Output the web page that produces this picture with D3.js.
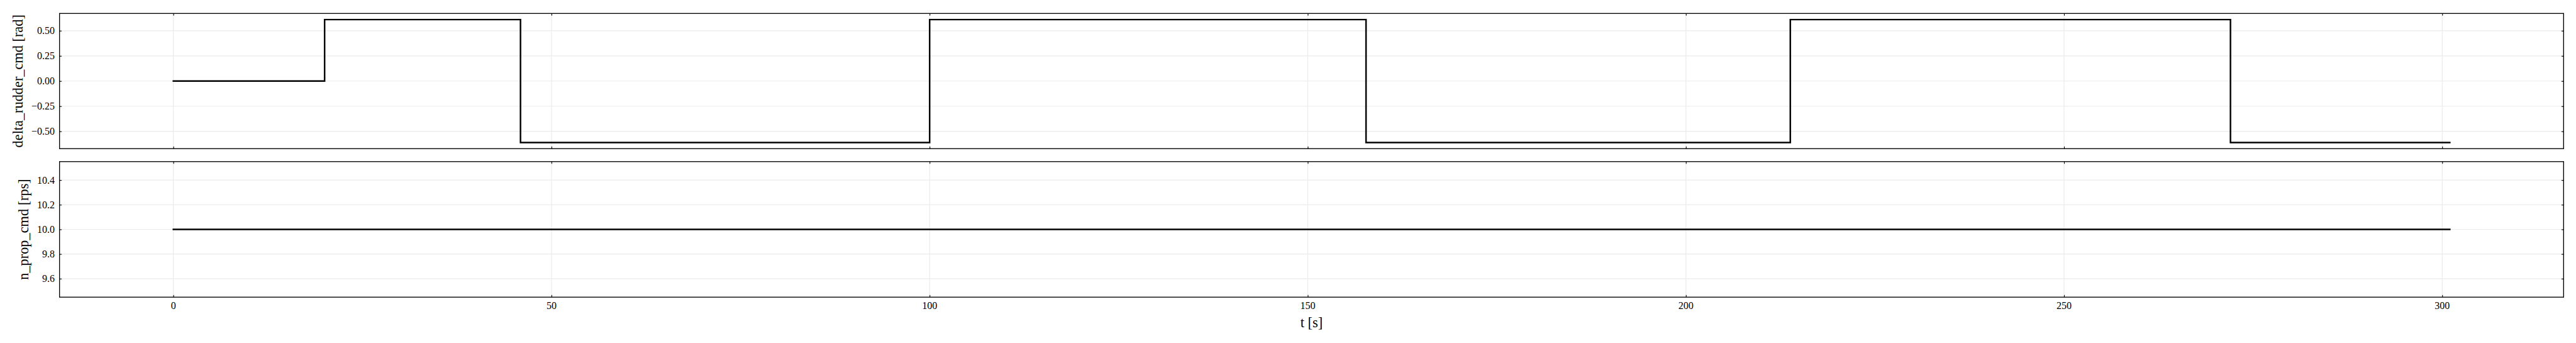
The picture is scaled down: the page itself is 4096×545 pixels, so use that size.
<!DOCTYPE html>
<html>
<head>
<meta charset="utf-8">
<script src="https://cdn.jsdelivr.net/npm/d3@7"></script>
<style>
  html, body { margin: 0; padding: 0; background: #fff; }
  svg { display: block; }
  text { font-family: "Liberation Serif", "Times New Roman", serif; fill: #000; }
</style>
</head>
<body>
<svg id="chart"></svg>
<script>
// ---- data ----
const rudderTimes  = [0, 20, 45.9, 100, 157.7, 213.8, 272, 301];
const rudderValues = [0, 0.611, -0.611, 0.611, -0.611, 0.611, -0.611, -0.611];
const propTimes    = [0, 301];
const propValues   = [10, 10];

const xTicks      = [0, 50, 100, 150, 200, 250, 300];
const rudderTicks = [-0.5, -0.25, 0, 0.25, 0.5];
const propTicks   = [9.6, 9.8, 10.0, 10.2, 10.4];

const xLabel      = "t [s]";
const rudderLabel = "delta_rudder_cmd [rad]";
const propLabel   = "n_prop_cmd [rps]";

// ---- layout in reference pixels (4513 x 600), scaled by viewBox ----
const W = 4513, H = 600;
const svg = d3.select("#chart")
  .attr("width", 4096).attr("height", 545)
  .attr("viewBox", `0 0 ${W} ${H}`);

const left = 104.3, right = 4491.3;
const panels = [
  { top: 23.3, bottom: 260, times: rudderTimes, values: rudderValues,
    ticks: rudderTicks, fmt: d3.format(".2f"), label: rudderLabel,
    domain: [-0.672, 0.672], showX: false },
  { top: 282.7, bottom: 520, times: propTimes, values: propValues,
    ticks: propTicks, fmt: d3.format(".1f"), label: propLabel,
    domain: [9.45, 10.55], showX: true }
];

const x = d3.scaleLinear().domain([-15.05, 316.05]).range([left, right]);

const tickFont = 17.7, labelFont = 24.6, tickLen = 3.8;
const gridColor = "#ebebeb";

panels.forEach(p => {
  const y = d3.scaleLinear().domain(p.domain).range([p.bottom, p.top]);
  const g = svg.append("g");

  // grid
  g.append("g").selectAll("line.vx").data(xTicks).join("line")
    .attr("x1", d => x(d)).attr("x2", d => x(d))
    .attr("y1", p.top).attr("y2", p.bottom)
    .attr("stroke", gridColor).attr("stroke-width", 1.3);
  g.append("g").selectAll("line.hy").data(p.ticks).join("line")
    .attr("x1", left).attr("x2", right)
    .attr("y1", d => y(d)).attr("y2", d => y(d))
    .attr("stroke", gridColor).attr("stroke-width", 1.3);

  // data line
  const pts = p.times.map((t, i) => [t, p.values[i]]);
  g.append("path")
    .datum(pts)
    .attr("d", d3.line().x(d => x(d[0])).y(d => y(d[1])).curve(d3.curveStepAfter))
    .attr("fill", "none").attr("stroke", "#000").attr("stroke-width", 2.7)
    .attr("stroke-linejoin", "miter").attr("stroke-linecap", "square");

  // inward ticks via d3 axes (no domain path)
  const axB = g.append("g").attr("transform", `translate(0,${p.bottom})`)
    .call(d3.axisTop(x).tickValues(xTicks).tickSize(tickLen).tickFormat(""));
  const axT = g.append("g").attr("transform", `translate(0,${p.top})`)
    .call(d3.axisBottom(x).tickValues(xTicks).tickSize(tickLen).tickFormat(""));
  const axL = g.append("g").attr("transform", `translate(${left},0)`)
    .call(d3.axisRight(y).tickValues(p.ticks).tickSize(tickLen).tickFormat(""));
  const axR = g.append("g").attr("transform", `translate(${right},0)`)
    .call(d3.axisLeft(y).tickValues(p.ticks).tickSize(tickLen).tickFormat(""));
  [axB, axT, axL, axR].forEach(a => {
    a.select(".domain").remove();
    a.selectAll(".tick line").attr("stroke", "#000").attr("stroke-width", 1.2);
  });

  // frame
  g.append("rect")
    .attr("x", left).attr("y", p.top)
    .attr("width", right - left).attr("height", p.bottom - p.top)
    .attr("fill", "none").attr("stroke", "#000").attr("stroke-width", 1.5);

  // y tick labels
  const yl = g.append("g").selectAll("text").data(p.ticks).join("text")
    .attr("x", left - 8.3)
    .attr("y", d => y(d))
    .attr("dy", "0.34em")
    .attr("text-anchor", "end")
    .attr("font-size", tickFont)
    .text(d => p.fmt(d));

  // y axis label, placed left of the tick labels
  let minX = Infinity;
  yl.each(function () { minX = Math.min(minX, this.getBBox().x); });
  const lx = minX - 15.5, ly = (p.top + p.bottom) / 2;
  g.append("text")
    .attr("transform", `translate(${lx},${ly}) rotate(-90)`)
    .attr("text-anchor", "middle")
    .attr("font-size", labelFont)
    .text(p.label);

  if (p.showX) {
    g.append("g").selectAll("text").data(xTicks).join("text")
      .attr("x", d => x(d))
      .attr("y", p.bottom + 21)
      .attr("text-anchor", "middle")
      .attr("font-size", tickFont)
      .text(d => d3.format("d")(d));
    g.append("text")
      .attr("x", (left + right) / 2)
      .attr("y", 573)
      .attr("text-anchor", "middle")
      .attr("font-size", labelFont)
      .text(xLabel);
  }
});
</script>
</body>
</html>
